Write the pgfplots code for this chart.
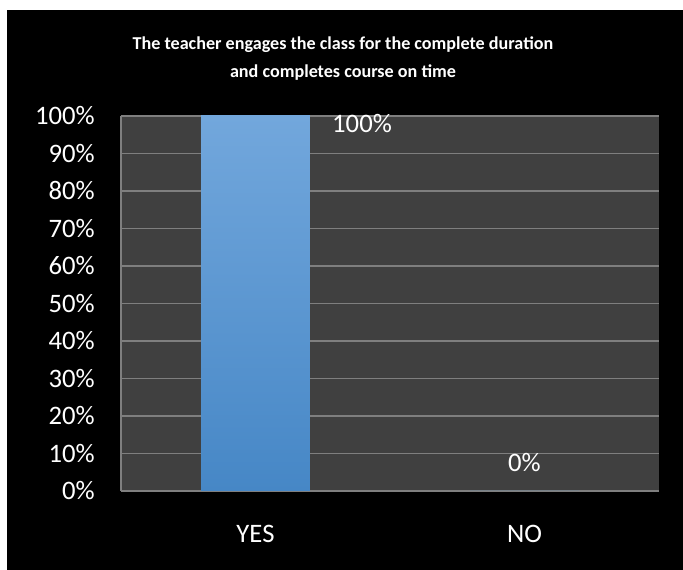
\documentclass[border=0pt]{standalone}
\usepackage{pgfplots}
\pgfplotsset{compat=1.18}
\usepackage{fontspec}
\setmainfont{Carlito}

\definecolor{plotbg}{HTML}{404040}
\definecolor{gridc}{HTML}{7F7F7F}
\definecolor{bartop}{HTML}{72A7DC}
\definecolor{barbot}{HTML}{4687C6}

\begin{document}
\begin{tikzpicture}
% page: 683x570 px at 0.75pt per px
\path[use as bounding box, fill=white] (0,0) rectangle (512.25pt,427.5pt);
\fill[black] (5.25pt,0) rectangle (512.25pt,420pt);

\node[white, font=\fontsize{13.6}{21}\selectfont\bfseries, align=center]
  at (257.25pt,383.25pt) {The teacher engages the class for the complete duration\\and completes course on time};

\begin{axis}[
  at={(90.75pt,59.25pt)}, anchor=south west,
  scale only axis,
  width=403.5pt, height=281.25pt,
  axis background/.style={fill=plotbg},
  xmin=-0.5, xmax=1.5,
  ymin=0, ymax=100,
  xtick={0,1}, xticklabels={YES,NO},
  ytick={0,10,...,100},
  yticklabel={\pgfmathprintnumber{\tick}\%},
  /pgf/number format/assume math mode=true,
  major tick length=0pt,
  ymajorgrids, grid style={gridc, line width=0.9pt},
  axis x line*=bottom, axis y line*=left,
  axis line style={gridc, line width=1pt, -},
  ticklabel style={white, font=\fontsize{20}{24}\selectfont},
  yticklabel style={anchor=east, inner sep=0pt, xshift=-19.5pt},
  xticklabel style={anchor=center, inner sep=0pt, yshift=-32.25pt},
  clip=false,
]
\addplot[ybar, bar width=0.405, bar shift=0pt, draw=none,
  top color=bartop, bottom color=barbot,
  nodes near coords={\pgfmathprintnumber{\pgfplotspointmeta}\%},
  every node near coord/.style={white, anchor=center, inner sep=0pt,
    xshift=79.9pt, yshift=-6pt, font=\fontsize{20}{24}\selectfont,
    /pgf/number format/assume math mode=true}]
  coordinates {(0,100)};
\addplot[ybar, bar width=0.405, bar shift=0pt, draw=none,
  fill=barbot,
  nodes near coords={\pgfmathprintnumber{\pgfplotspointmeta}\%},
  every node near coord/.style={white, anchor=center, inner sep=0pt,
    yshift=21pt, font=\fontsize{20}{24}\selectfont,
    /pgf/number format/assume math mode=true}]
  coordinates {(1,0)};
\end{axis}
\end{tikzpicture}
\end{document}
